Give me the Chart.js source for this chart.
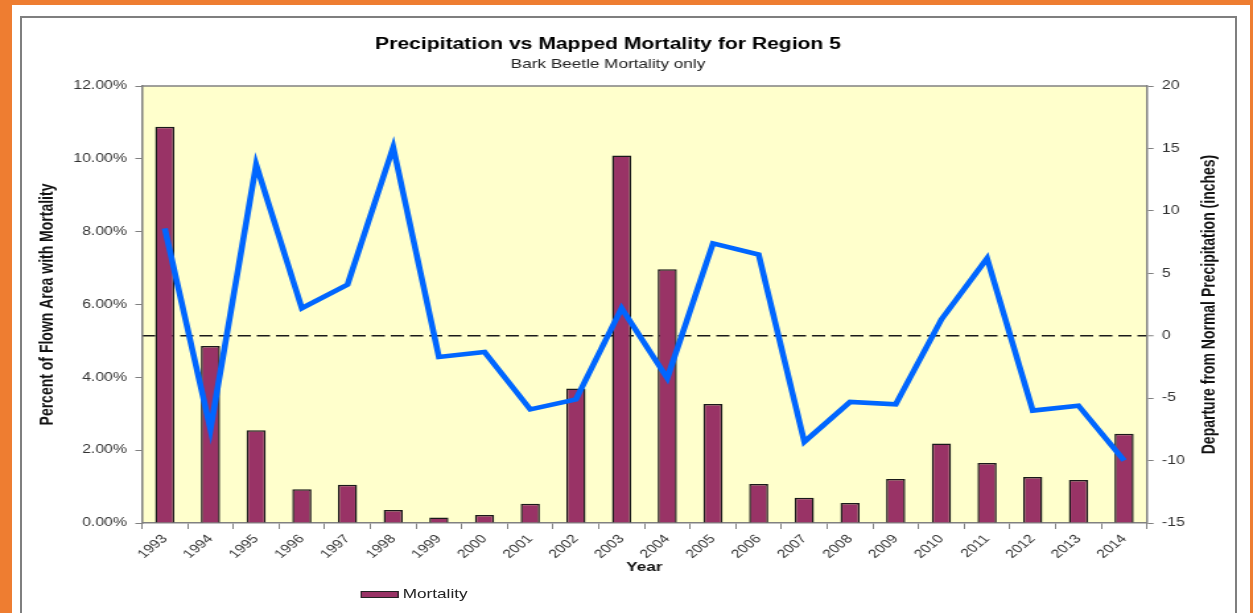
<!DOCTYPE html>
<html>
<head>
<meta charset="utf-8">
<title>Precipitation vs Mapped Mortality for Region 5</title>
<script src="https://cdn.jsdelivr.net/npm/chart.js@4.4.0/dist/chart.umd.min.js"></script>
<style>
  body { margin: 0; width: 1253px; height: 613px; overflow: hidden; position: relative; background: #ee7d31; font-family: "Liberation Sans", Arial, sans-serif; }
  #sheet { position: absolute; left: 12px; top: 5px; width: 1238px; height: 620px; background: #fff; }
  #frame { position: absolute; left: 20px; top: 16px; width: 1213px; height: 620px; border: 2px solid #7f7f7f; }
  /* the source picture is stretched sideways, so the chart is drawn narrow and widened */
  #stretch { position: absolute; left: 0; top: 0; width: 949px; height: 613px; transform: scaleX(1.3203); transform-origin: 0 0; }
  #myChart { position: absolute; left: 0; top: 0; }
  #legend { position: absolute; left: 273px; top: 587px; font-size: 13px; line-height: 14px; color: #222; display: flex; align-items: center; }
  #legend .swatch { width: 27px; height: 5px; background: #993366; border: 1px solid #222; margin-right: 3px; }
</style>
</head>
<body>
<div id="sheet"></div>
<div id="frame"></div>
<div id="stretch">
  <canvas id="myChart" width="949" height="613"></canvas>
  <div id="legend"><span class="swatch"></span><span>Mortality</span></div>
</div>
<script>
var years = ['1993', '1994', '1995', '1996', '1997', '1998', '1999', '2000', '2001', '2002', '2003',
  '2004', '2005', '2006', '2007', '2008', '2009', '2010', '2011', '2012', '2013', '2014'];
// percent of flown area with mortality
var mortality = [10.88, 4.86, 2.55, 0.93, 1.05, 0.36, 0.15, 0.22, 0.53, 3.69, 10.09,
  6.97, 3.27, 1.07, 0.69, 0.55, 1.21, 2.18, 1.65, 1.26, 1.18, 2.45];
// departure from normal precipitation (inches)
var precipDeparture = [8.6, -7.5, 13.7, 2.2, 4.1, 15.1, -1.7, -1.3, -5.9, -5.1, 2.2,
  -3.4, 7.4, 6.5, -8.5, -5.3, -5.5, 1.3, 6.2, -6.0, -5.6, -10.0];
var leftAxisRange = [0, 12, 2];
var rightAxisRange = [-15, 20, 5];

var fontFamily = '"Liberation Sans", Arial, sans-serif';
Chart.defaults.font.family = fontFamily;

// yellow plot area with a top border line
var plotArea = {
  id: 'plotArea',
  beforeDraw: function (chart) {
    var a = chart.chartArea, c = chart.ctx;
    c.save();
    c.fillStyle = '#ffffcc';
    c.fillRect(a.left, a.top, a.right - a.left, a.bottom - a.top);
    c.strokeStyle = '#808080';
    c.lineWidth = 1.5;
    c.beginPath();
    c.moveTo(a.left, a.top);
    c.lineTo(a.right, a.top);
    c.stroke();
    c.restore();
  }
};

// right axis title reads bottom to top, chart.js would turn it the other way
var rightTitle = {
  id: 'rightTitle',
  afterDraw: function (chart) {
    var c = chart.ctx, a = chart.chartArea, s = chart.scales.y1;
    c.save();
    c.translate(s.right - 5, (a.top + a.bottom) / 2);
    c.rotate(-Math.PI / 2);
    c.font = 'bold 14px ' + fontFamily;
    c.fillStyle = '#111';
    c.textAlign = 'center';
    c.textBaseline = 'middle';
    c.fillText('Departure from Normal Precipitation (inches)', 0, 0);
    c.restore();
  }
};

var ctx = document.getElementById('myChart');
new Chart(ctx, {
  type: 'bar',
  data: {
    labels: years,
    datasets: [{
      type: 'line',
      label: 'Precipitation',
      data: precipDeparture,
      yAxisID: 'y1',
      borderColor: '#0066ff',
      borderWidth: 4.6,
      pointRadius: 0,
      tension: 0,
      fill: false,
      order: 1
    }, {
      type: 'bar',
      label: 'Mortality',
      data: mortality,
      yAxisID: 'y',
      backgroundColor: '#993366',
      borderColor: '#1a1a1a',
      borderWidth: 1.5,
      barPercentage: 0.42,
      categoryPercentage: 1,
      order: 2
    }]
  },
  options: {
    responsive: false,
    animation: false,
    layout: { padding: { left: 0, right: 28, top: 0, bottom: 34 } },
    plugins: {
      legend: { display: false },
      tooltip: { enabled: false },
      title: {
        display: true,
        text: 'Precipitation vs Mapped Mortality for Region 5',
        color: '#000',
        font: { size: 16, weight: 'bold' },
        padding: { top: 34.9, bottom: 0 }
      },
      subtitle: {
        display: true,
        text: 'Bark Beetle Mortality only',
        color: '#222',
        font: { size: 13 },
        padding: { top: 2.3, bottom: 14 }
      }
    },
    scales: {
      x: {
        offset: true,
        grid: { offset: true, drawOnChartArea: false, tickLength: 6, color: '#808080' },
        border: { color: '#808080', width: 1.5 },
        ticks: { minRotation: 47, maxRotation: 47, autoSkip: false, color: '#333', font: { size: 12 }, padding: 3 },
        title: { display: true, text: 'Year', color: '#111', font: { size: 13, weight: 'bold' }, padding: { top: 0, bottom: 4 } },
        afterFit: function (scale) { scale.height = 56; }
      },
      y: {
        position: 'left',
        min: leftAxisRange[0],
        max: leftAxisRange[1],
        ticks: {
          stepSize: leftAxisRange[2],
          color: '#333',
          font: { size: 12 },
          padding: 6.3,
          callback: function (v) { return v.toFixed(2) + '%'; }
        },
        grid: { drawOnChartArea: false, tickLength: 5, color: '#808080' },
        border: { color: '#808080', width: 1.5 },
        title: {
          display: true,
          text: 'Percent of Flown Area with Mortality',
          color: '#111',
          font: { size: 14, weight: 'bold' },
          padding: { top: 28, bottom: 0 }
        },
        afterFit: function (scale) { scale.width = 107.5; }
      },
      y1: {
        position: 'right',
        min: rightAxisRange[0],
        max: rightAxisRange[1],
        ticks: { stepSize: rightAxisRange[2], color: '#333', font: { size: 12 }, padding: 6.3 },
        grid: {
          drawOnChartArea: true,
          color: function (c) { return c.tick && c.tick.value === 0 ? '#1a1a1a' : 'rgba(0,0,0,0)'; },
          lineWidth: function (c) { return c.tick && c.tick.value === 0 ? 1.5 : 1; },
          tickColor: '#808080',
          tickWidth: 1,
          tickLength: 5
        },
        border: { color: '#808080', width: 1.5, dash: [10, 4.5] },
        afterFit: function (scale) { scale.width = 52.3; }
      }
    }
  },
  plugins: [plotArea, rightTitle]
});
</script>
</body>
</html>
